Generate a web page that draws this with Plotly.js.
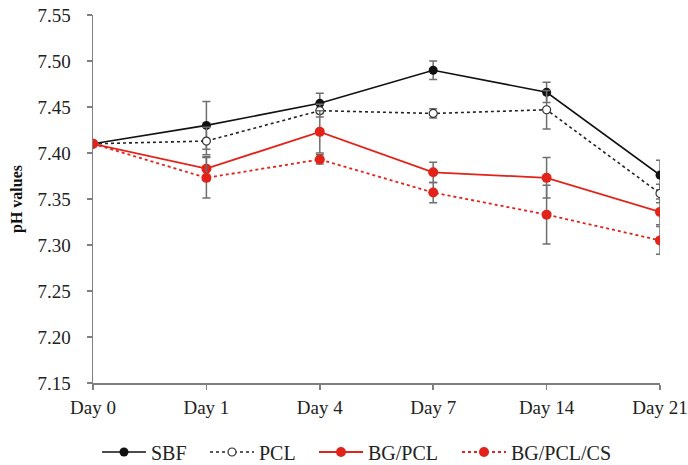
<!DOCTYPE html>
<html>
<head>
<meta charset="utf-8">
<script src="https://cdn.plot.ly/plotly-3.0.1.min.js"></script>
<style>html,body{margin:0;padding:0;background:#fff}#chart{width:688px;height:465px}</style>
</head>
<body>
<div id="chart"></div>
<script>
var days = ["Day 0", "Day 1", "Day 4", "Day 7", "Day 14", "Day 21"];
var sbf = [7.410, 7.430, 7.454, 7.490, 7.466, 7.376];
var sbfErr = [null, 0.026, 0.011, 0.010, 0.011, 0.016];
var pcl = [7.410, 7.413, 7.446, 7.443, 7.447, 7.356];
var pclErr = [null, 0.015, 0.007, 0.005, 0.021, 0.010];
var bgpcl = [7.410, 7.383, 7.423, 7.379, 7.373, 7.336];
var bgpclErr = [null, 0.013, 0.023, 0.011, 0.022, 0.014];
var bgpclcs = [7.410, 7.373, 7.393, 7.357, 7.333, 7.305];
var bgpclcsErr = [null, 0.022, 0.005, 0.011, 0.032, 0.015];

var serif = "Liberation Serif";
var errStyle = function (arr) {
  return {type: "data", array: arr, visible: true, color: "#6f6f6f", thickness: 1.5, width: 4};
};

var traces = [
  {name: "SBF", x: days, y: sbf, type: "scatter", mode: "lines+markers", legend: "legend",
   line: {color: "#111111", width: 1.6},
   marker: {color: "#111111", size: 9},
   error_y: errStyle(sbfErr)},
  {name: "PCL", x: days, y: pcl, type: "scatter", mode: "lines+markers", legend: "legend2",
   line: {color: "#222222", width: 1.6, dash: "dot"},
   marker: {color: "#ffffff", size: 8, line: {color: "#333333", width: 1.2}},
   error_y: errStyle(pclErr)},
  {name: "BG/PCL", x: days, y: bgpcl, type: "scatter", mode: "lines+markers", legend: "legend3",
   line: {color: "#e2231a", width: 1.8},
   marker: {color: "#e2231a", size: 10},
   error_y: errStyle(bgpclErr)},
  {name: "BG/PCL/CS", x: days, y: bgpclcs, type: "scatter", mode: "lines+markers", legend: "legend4",
   line: {color: "#e2231a", width: 1.8, dash: "dot"},
   marker: {color: "#e2231a", size: 10},
   error_y: errStyle(bgpclcsErr)}
];

function legendAt(px) {
  return {orientation: "h", xref: "container", yref: "container", x: px / 688, xanchor: "left",
          y: 1 - 452 / 465, yanchor: "middle", font: {family: serif, size: 20, color: "#222222"},
          itemwidth: 44, bgcolor: "rgba(0,0,0,0)"};
}

var axisColor = "#7f7f7f";
var layout = {
  width: 688, height: 465,
  margin: {l: 93, r: 28, t: 15, b: 82},
  paper_bgcolor: "#ffffff", plot_bgcolor: "#ffffff",
  font: {family: serif, color: "#222222", size: 19},
  showlegend: true,
  legend: legendAt(97),
  legend2: legendAt(205),
  legend3: legendAt(314),
  legend4: legendAt(457),
  xaxis: {type: "category", categoryarray: days, categoryorder: "array", range: [0, 5],
          showline: true, linecolor: axisColor, linewidth: 1.5,
          ticks: "outside", ticklen: 5, tickwidth: 1.5, tickcolor: axisColor,
          showgrid: false, zeroline: false, ticklabelstandoff: 2,
          tickfont: {family: serif, size: 19, color: "#222222"}},
  yaxis: {range: [7.15, 7.55], dtick: 0.05, tick0: 7.15, tickformat: ".2f",
          showline: true, linecolor: axisColor, linewidth: 1.5,
          ticks: "outside", ticklen: 5, tickwidth: 1.5, tickcolor: axisColor,
          showgrid: false, zeroline: false, ticklabelstandoff: 12,
          tickfont: {family: serif, size: 19, color: "#222222"},
          title: {text: "pH values", font: {family: serif, size: 16, weight: "bold", color: "#111111"}, standoff: 11}},
  xaxis2: {overlaying: "x", anchor: "y", range: [0, 5], dtick: 1, tick0: 0,
           ticks: "inside", ticklen: 5, tickwidth: 1.5, tickcolor: axisColor,
           showticklabels: false, showline: false, showgrid: false, zeroline: false},
  yaxis2: {overlaying: "y", anchor: "x", range: [7.15, 7.55], dtick: 0.05, tick0: 7.15,
           ticks: "inside", ticklen: 5, tickwidth: 1.5, tickcolor: axisColor,
           showticklabels: false, showline: false, showgrid: false, zeroline: false}
};

Plotly.newPlot("chart", traces, layout, {displayModeBar: false, staticPlot: true});
</script>
</body>
</html>
